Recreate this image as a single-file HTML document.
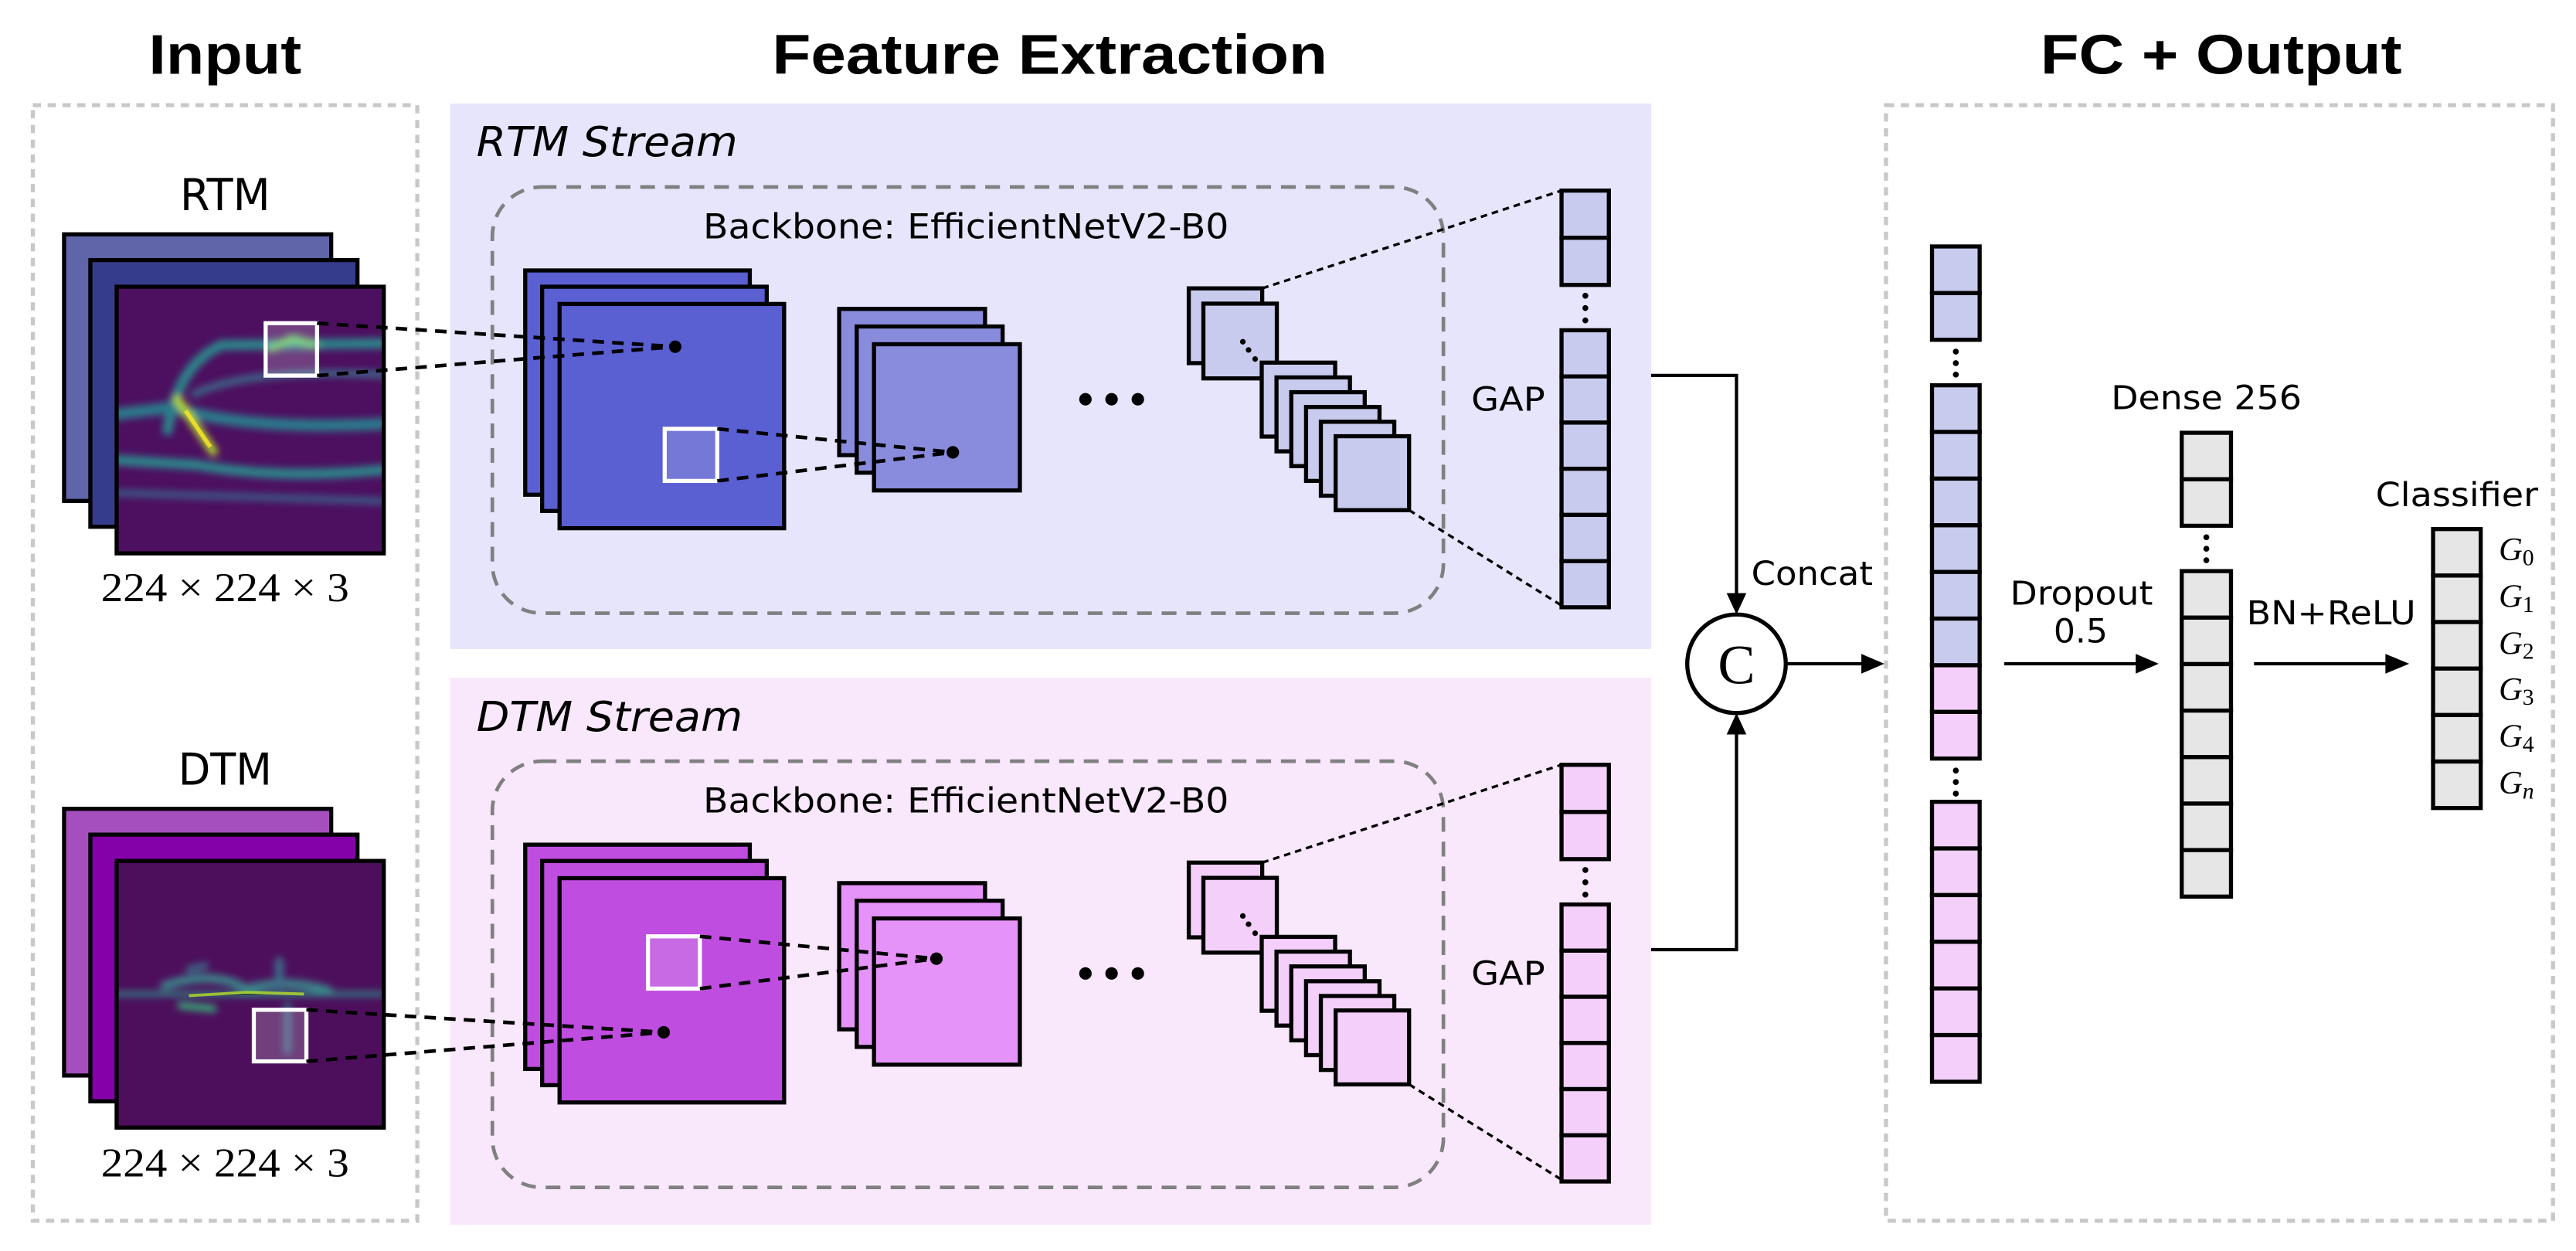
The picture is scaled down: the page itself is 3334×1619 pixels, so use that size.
<!DOCTYPE html>
<html><head><meta charset="utf-8"><style>html,body{margin:0;padding:0;background:#fff}svg{display:block}</style></head>
<body>
<svg width="3334" height="1619" viewBox="0 0 1568 761.4" xmlns="http://www.w3.org/2000/svg" font-family="'DejaVu Sans','Liberation Sans',sans-serif">
<defs>
<filter id="bl" x="-20%" y="-20%" width="140%" height="140%"><feGaussianBlur stdDeviation="2.2"/></filter>
<clipPath id="c1"><rect x="71" y="174.5" width="162.6" height="162.3"/></clipPath>
<clipPath id="c2"><rect x="71" y="524" width="162.6" height="162.3"/></clipPath>
</defs>
<rect width="1568" height="761.4" fill="#fff"/>

<!-- titles -->
<text x="137" y="45" font-family="'Liberation Sans',sans-serif" font-weight="bold" font-size="34" text-anchor="middle" textLength="93" lengthAdjust="spacingAndGlyphs">Input</text>
<text x="639" y="45" font-family="'Liberation Sans',sans-serif" font-weight="bold" font-size="34" text-anchor="middle" textLength="338" lengthAdjust="spacingAndGlyphs">Feature Extraction</text>
<text x="1352" y="45" font-family="'Liberation Sans',sans-serif" font-weight="bold" font-size="34" text-anchor="middle" textLength="220" lengthAdjust="spacingAndGlyphs">FC + Output</text>

<!-- outer boxes -->
<rect x="20" y="64" width="234" height="679" fill="none" stroke="#c8c8c8" stroke-width="2.5" stroke-dasharray="5,4"/>
<rect x="1148" y="64" width="406" height="679" fill="none" stroke="#c8c8c8" stroke-width="2.5" stroke-dasharray="5,4"/>
<rect x="274" y="63" width="731" height="332" fill="#e6e5fc"/>
<rect x="274" y="412.5" width="731" height="333" fill="#f9e8fb"/>

<!-- ============ RTM ============ -->
<text x="137" y="128" font-size="27" text-anchor="middle" textLength="55" lengthAdjust="spacingAndGlyphs">RTM</text>
<rect x="39" y="142.6" width="162.6" height="162.3" fill="#6064a8" stroke="#000" stroke-width="2.5"/>
<rect x="55" y="158.3" width="162.6" height="162.3" fill="#363c8c" stroke="#000" stroke-width="2.5"/>
<rect x="71" y="174.5" width="162.6" height="162.3" fill="#4d0f60"/>
<g clip-path="url(#c1)" filter="url(#bl)" fill="none" stroke-linecap="round">
 <path d="M102,262 Q108,222 135,210 L233,209" stroke="#2a8a8c" stroke-width="6"/>
 <path d="M118,240 Q150,224 233,228" stroke="#3a6f8a" stroke-width="4"/>
 <path d="M71,252 L105,248 Q150,262 233,258" stroke="#2a7d8c" stroke-width="7"/>
 <path d="M71,280 L120,283 Q170,292 233,286" stroke="#2a8a8c" stroke-width="6"/>
 <path d="M71,300 L233,305" stroke="#3a5e88" stroke-width="4"/>
 <path d="M165,212 L178,206 L192,210" stroke="#5ec962" stroke-width="5"/>
 <path d="M108,243 L130,275" stroke="#b5de2b" stroke-width="5"/>
</g>
<path d="M113,250 L128,272" stroke="#fde725" stroke-width="2.5" opacity="0.8"/>
<rect x="71" y="174.5" width="162.6" height="162.3" fill="none" stroke="#000" stroke-width="2.5"/>
<rect x="161.7" y="196.7" width="31.3" height="31.9" fill="rgba(255,255,255,0.2)" stroke="#fff" stroke-width="2.5"/>
<text x="137" y="366" font-family="'Liberation Serif',serif" font-size="25" text-anchor="middle" textLength="151" lengthAdjust="spacingAndGlyphs">224 × 224 × 3</text>

<text x="290" y="95" font-size="25" font-style="italic" textLength="159" lengthAdjust="spacingAndGlyphs">RTM Stream</text>
<rect x="299.7" y="113.8" width="578.9" height="259.4" rx="30" fill="none" stroke="#808080" stroke-width="2.2" stroke-dasharray="9,6"/>
<text x="588" y="145" font-size="21" text-anchor="middle" textLength="320" lengthAdjust="spacingAndGlyphs">Backbone: EfficientNetV2-B0</text>

<rect x="319.7" y="164.6" width="136.7" height="136.5" fill="#5a5fd2" stroke="#000" stroke-width="2.5"/>
<rect x="330" y="174.5" width="136.7" height="136.5" fill="#5a5fd2" stroke="#000" stroke-width="2.5"/>
<rect x="340.6" y="185" width="136.7" height="136.5" fill="#5a5fd2" stroke="#000" stroke-width="2.5"/>
<rect x="404.6" y="261" width="32" height="31.7" fill="#7678d8" stroke="#fff" stroke-width="2.5"/>
<rect x="510.8" y="188" width="88.8" height="89" fill="#898cdc" stroke="#000" stroke-width="2.5"/>
<rect x="521.5" y="198.7" width="88.8" height="89" fill="#898cdc" stroke="#000" stroke-width="2.5"/>
<rect x="532" y="209.5" width="88.8" height="89" fill="#898cdc" stroke="#000" stroke-width="2.5"/>
<g stroke="#000" stroke-width="2.2" stroke-dasharray="7,5" fill="none">
 <path d="M193,196.7 L411,211 M193,228.6 L411,211"/>
 <path d="M436.6,261 L580,275.3 M436.6,292.7 L580,275.3"/>
</g>
<circle cx="411" cy="211" r="3.8"/><circle cx="580" cy="275.3" r="3.8"/>
<circle cx="660.7" cy="243" r="3.8"/><circle cx="676.6" cy="243" r="3.8"/><circle cx="692.6" cy="243" r="3.8"/>

<g fill="#c9cbee" stroke="#000" stroke-width="2.5">
 <rect x="723.6" y="175.5" width="44.7" height="45.5"/>
 <rect x="732.5" y="184.8" width="44.7" height="45.5"/>
 <rect x="768" y="220.7" width="44.7" height="45"/>
 <rect x="777" y="229.7" width="44.7" height="45"/>
 <rect x="786" y="238.7" width="44.7" height="45"/>
 <rect x="795" y="247.7" width="44.7" height="45"/>
 <rect x="804" y="256.7" width="44.7" height="45"/>
 <rect x="813" y="265.5" width="44.7" height="45"/>
</g>
<circle cx="756.5" cy="208" r="1.7"/><circle cx="760" cy="213" r="1.7"/><circle cx="764" cy="218.5" r="1.7"/>
<g stroke="#000" stroke-width="1.6" stroke-dasharray="4,3"><path d="M768.3,175.5 L950.5,116 M857.7,310.5 L950.5,368.5"/></g>
<text x="918" y="250" font-size="20" text-anchor="middle" textLength="45" lengthAdjust="spacingAndGlyphs">GAP</text>
<g fill="#c9cbee" stroke="#000" stroke-width="2.5">
 <rect x="950.5" y="116" width="28.8" height="28.7"/><rect x="950.5" y="144.7" width="28.8" height="28.7"/>
 <rect x="950.5" y="201" width="28.8" height="28.1"/><rect x="950.5" y="229.1" width="28.8" height="28.1"/><rect x="950.5" y="257.2" width="28.8" height="28.1"/><rect x="950.5" y="285.3" width="28.8" height="28.1"/><rect x="950.5" y="313.4" width="28.8" height="28.1"/><rect x="950.5" y="341.5" width="28.8" height="28.1"/>
</g>
<circle cx="965" cy="180" r="1.8"/><circle cx="965" cy="187.5" r="1.8"/><circle cx="965" cy="195" r="1.8"/>

<!-- ============ DTM ============ -->
<text x="137" y="477.5" font-size="27" text-anchor="middle" textLength="57" lengthAdjust="spacingAndGlyphs">DTM</text>
<rect x="39" y="492.3" width="162.6" height="162.3" fill="#a54fbf" stroke="#000" stroke-width="2.5"/>
<rect x="55" y="508" width="162.6" height="162.3" fill="#8400a8" stroke="#000" stroke-width="2.5"/>
<rect x="71" y="524" width="162.6" height="162.3" fill="#4d0f5c"/>
<g clip-path="url(#c2)" filter="url(#bl)" fill="none" stroke-linecap="round">
 <path d="M71,605 L233,605" stroke="#2a9a8c" stroke-width="2.5"/>
 <path d="M100,600 Q130,590 150,602 Q175,595 200,603" stroke="#3a8a8c" stroke-width="5"/>
 <path d="M110,612 L130,614" stroke="#35b779" stroke-width="4"/>
 <path d="M115,590 L125,588" stroke="#3a6f8a" stroke-width="4"/>
 <path d="M170,585 L170,600" stroke="#3a6f8a" stroke-width="5"/>
 <path d="M175,612 L175,640" stroke="#3a6f8a" stroke-width="4"/>
</g>
<path d="M115,606 L150,604 L185,605" stroke="#b5de2b" stroke-width="1.8" opacity="0.8"/>
<rect x="71" y="524" width="162.6" height="162.3" fill="none" stroke="#000" stroke-width="2.5"/>
<rect x="154.5" y="614.6" width="32" height="31.4" fill="rgba(255,255,255,0.2)" stroke="#fff" stroke-width="2.5"/>
<text x="137" y="716" font-family="'Liberation Serif',serif" font-size="25" text-anchor="middle" textLength="151" lengthAdjust="spacingAndGlyphs">224 × 224 × 3</text>

<text x="290" y="445" font-size="25" font-style="italic" textLength="162" lengthAdjust="spacingAndGlyphs">DTM Stream</text>
<rect x="299.7" y="463.3" width="578.9" height="259.4" rx="30" fill="none" stroke="#808080" stroke-width="2.2" stroke-dasharray="9,6"/>
<text x="588" y="494.5" font-size="21" text-anchor="middle" textLength="320" lengthAdjust="spacingAndGlyphs">Backbone: EfficientNetV2-B0</text>

<rect x="319.7" y="514.1" width="136.7" height="136.5" fill="#bf4de0" stroke="#000" stroke-width="2.5"/>
<rect x="330" y="524" width="136.7" height="136.5" fill="#bf4de0" stroke="#000" stroke-width="2.5"/>
<rect x="340.6" y="534.5" width="136.7" height="136.5" fill="#bf4de0" stroke="#000" stroke-width="2.5"/>
<rect x="394.4" y="569.9" width="31.6" height="31.8" fill="#c86ae4" stroke="#fff" stroke-width="2.5"/>
<rect x="510.8" y="537.5" width="88.8" height="89" fill="#e593f8" stroke="#000" stroke-width="2.5"/>
<rect x="521.5" y="548.2" width="88.8" height="89" fill="#e593f8" stroke="#000" stroke-width="2.5"/>
<rect x="532" y="559" width="88.8" height="89" fill="#e593f8" stroke="#000" stroke-width="2.5"/>
<g stroke="#000" stroke-width="2.2" stroke-dasharray="7,5" fill="none">
 <path d="M186.5,614.6 L404,628.3 M186.5,646 L404,628.3"/>
 <path d="M426,569.9 L570,583.5 M426,601.7 L570,583.5"/>
</g>
<circle cx="404" cy="628.3" r="3.8"/><circle cx="570" cy="583.5" r="3.8"/>
<circle cx="660.7" cy="592.5" r="3.8"/><circle cx="676.6" cy="592.5" r="3.8"/><circle cx="692.6" cy="592.5" r="3.8"/>

<g fill="#f3cffa" stroke="#000" stroke-width="2.5">
 <rect x="723.6" y="525" width="44.7" height="45.5"/>
 <rect x="732.5" y="534.3" width="44.7" height="45.5"/>
 <rect x="768" y="570.2" width="44.7" height="45"/>
 <rect x="777" y="579.2" width="44.7" height="45"/>
 <rect x="786" y="588.2" width="44.7" height="45"/>
 <rect x="795" y="597.2" width="44.7" height="45"/>
 <rect x="804" y="606.2" width="44.7" height="45"/>
 <rect x="813" y="615" width="44.7" height="45"/>
</g>
<circle cx="756.5" cy="557.5" r="1.7"/><circle cx="760" cy="562.5" r="1.7"/><circle cx="764" cy="568" r="1.7"/>
<g stroke="#000" stroke-width="1.6" stroke-dasharray="4,3"><path d="M768.3,525 L950.5,465.5 M857.7,660 L950.5,718"/></g>
<text x="918" y="599.5" font-size="20" text-anchor="middle" textLength="45" lengthAdjust="spacingAndGlyphs">GAP</text>
<g fill="#f3cffa" stroke="#000" stroke-width="2.5">
 <rect x="950.5" y="465.5" width="28.8" height="28.7"/><rect x="950.5" y="494.2" width="28.8" height="28.7"/>
 <rect x="950.5" y="550.5" width="28.8" height="28.1"/><rect x="950.5" y="578.6" width="28.8" height="28.1"/><rect x="950.5" y="606.7" width="28.8" height="28.1"/><rect x="950.5" y="634.8" width="28.8" height="28.1"/><rect x="950.5" y="662.9" width="28.8" height="28.1"/><rect x="950.5" y="691" width="28.8" height="28.1"/>
</g>
<circle cx="965" cy="529.5" r="1.8"/><circle cx="965" cy="537" r="1.8"/><circle cx="965" cy="544.5" r="1.8"/>

<!-- ============ Concat ============ -->
<g stroke="#000" stroke-width="2" fill="none">
 <path d="M1005,228.5 L1057,228.5 L1057,362"/>
 <path d="M1005,578 L1057,578 L1057,446"/>
 <path d="M1087,404 L1134,404"/>
</g>
<path d="M1051,361 L1063,361 L1057,374 Z"/>
<path d="M1051,447 L1063,447 L1057,434 Z"/>
<path d="M1133,398 L1133,410 L1147,404 Z"/>
<circle cx="1057" cy="404" r="30" fill="#fff" stroke="#000" stroke-width="2.5"/>
<text x="1057" y="416" font-family="'Liberation Serif',serif" font-size="34" text-anchor="middle">C</text>
<text x="1103" y="356" font-size="20" text-anchor="middle" textLength="74" lengthAdjust="spacingAndGlyphs">Concat</text>

<!-- ============ FC ============ -->
<g stroke="#000" stroke-width="2.5">
 <g fill="#c9cbee">
  <rect x="1176" y="150" width="29" height="28.4"/><rect x="1176" y="178.4" width="29" height="28.4"/>
  <rect x="1176" y="234.5" width="29" height="28.4"/><rect x="1176" y="262.9" width="29" height="28.4"/><rect x="1176" y="291.3" width="29" height="28.4"/><rect x="1176" y="319.7" width="29" height="28.4"/><rect x="1176" y="348.1" width="29" height="28.4"/><rect x="1176" y="376.5" width="29" height="28.4"/>
 </g>
 <g fill="#f3cffa">
  <rect x="1176" y="404.9" width="29" height="28.4"/><rect x="1176" y="433.3" width="29" height="28.4"/>
  <rect x="1176" y="488" width="29" height="28.4"/><rect x="1176" y="516.4" width="29" height="28.4"/><rect x="1176" y="544.8" width="29" height="28.4"/><rect x="1176" y="573.2" width="29" height="28.4"/><rect x="1176" y="601.6" width="29" height="28.4"/><rect x="1176" y="630" width="29" height="28.4"/>
 </g>
 <g fill="#e6e6e6">
  <rect x="1328" y="263.4" width="30" height="28.3"/><rect x="1328" y="291.7" width="30" height="28.3"/>
  <rect x="1328" y="347.6" width="30" height="28.3"/><rect x="1328" y="375.9" width="30" height="28.3"/><rect x="1328" y="404.2" width="30" height="28.3"/><rect x="1328" y="432.5" width="30" height="28.3"/><rect x="1328" y="460.8" width="30" height="28.3"/><rect x="1328" y="489.1" width="30" height="28.3"/><rect x="1328" y="517.4" width="30" height="28.3"/>
  <rect x="1481" y="322" width="29" height="28.3"/><rect x="1481" y="350.3" width="29" height="28.3"/><rect x="1481" y="378.6" width="29" height="28.3"/><rect x="1481" y="406.9" width="29" height="28.3"/><rect x="1481" y="435.2" width="29" height="28.3"/><rect x="1481" y="463.5" width="29" height="28.3"/>
 </g>
</g>
<circle cx="1190.5" cy="214" r="1.8"/><circle cx="1190.5" cy="221" r="1.8"/><circle cx="1190.5" cy="228" r="1.8"/>
<circle cx="1190.5" cy="469" r="1.8"/><circle cx="1190.5" cy="476" r="1.8"/><circle cx="1190.5" cy="483" r="1.8"/>
<circle cx="1343" cy="327" r="1.8"/><circle cx="1343" cy="334" r="1.8"/><circle cx="1343" cy="341" r="1.8"/>

<text x="1343" y="249" font-size="20" text-anchor="middle" textLength="116" lengthAdjust="spacingAndGlyphs">Dense 256</text>
<text x="1495.5" y="308" font-size="20" text-anchor="middle" textLength="99" lengthAdjust="spacingAndGlyphs">Classifier</text>
<text x="1267" y="368" font-size="20" text-anchor="middle" textLength="87" lengthAdjust="spacingAndGlyphs">Dropout</text>
<text x="1266.5" y="391" font-size="20" text-anchor="middle" textLength="33" lengthAdjust="spacingAndGlyphs">0.5</text>
<text x="1419" y="380" font-size="20" text-anchor="middle" textLength="103" lengthAdjust="spacingAndGlyphs">BN+ReLU</text>
<g stroke="#000" stroke-width="2"><path d="M1220,404 L1302,404 M1372,404 L1454,404"/></g>
<path d="M1300,398 L1300,410 L1314,404 Z"/>
<path d="M1452,398 L1452,410 L1466.5,404 Z"/>

<g font-family="'Liberation Serif',serif" font-style="italic" font-size="20">
 <text x="1521" y="341">G<tspan font-style="normal" font-size="14" dy="3">0</tspan></text>
 <text x="1521" y="369.5">G<tspan font-style="normal" font-size="14" dy="3">1</tspan></text>
 <text x="1521" y="398">G<tspan font-style="normal" font-size="14" dy="3">2</tspan></text>
 <text x="1521" y="426">G<tspan font-style="normal" font-size="14" dy="3">3</tspan></text>
 <text x="1521" y="454.5">G<tspan font-style="normal" font-size="14" dy="3">4</tspan></text>
 <text x="1521" y="483">G<tspan font-size="14" dy="3">n</tspan></text>
</g>
</svg>
</body></html>
